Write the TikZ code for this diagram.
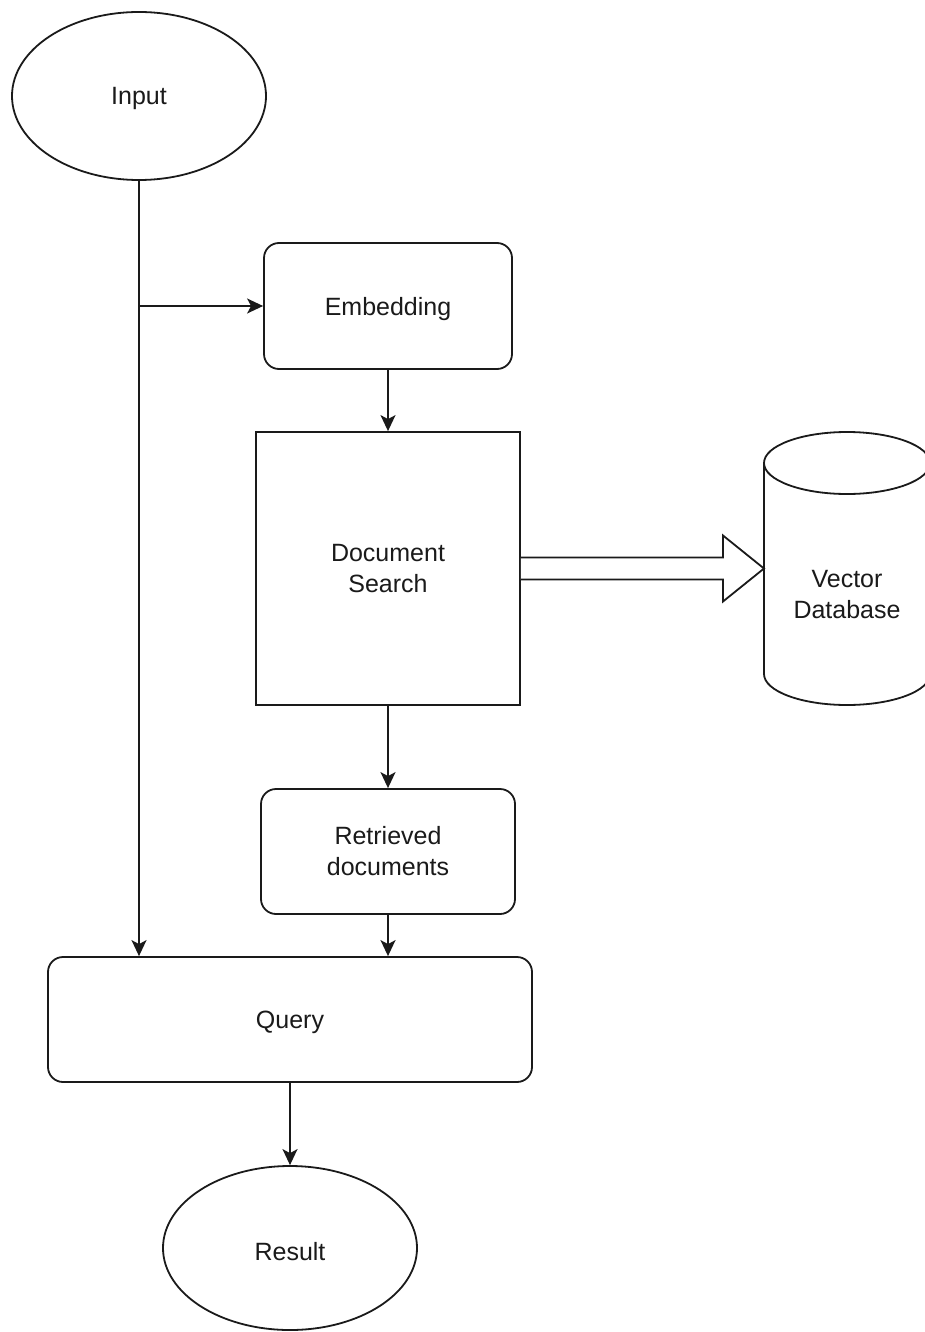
\documentclass[tikz,border=0pt]{standalone}
\usepackage{fontspec}
\setmainfont{Liberation Sans}
\usetikzlibrary{arrows.meta,calc,shapes.geometric}
\definecolor{ink}{HTML}{1A1A1A}
\begin{document}
\begin{tikzpicture}[x=1pt,y=-1pt,
  every node/.style={font=\fontsize{25}{31}\selectfont, text=ink, align=center, inner sep=0pt},
  one/.style={text height=18pt, text depth=0pt},
  shp/.style={draw=ink, line width=1.8pt, fill=white},
  oval/.style={shp, ellipse},
  rbox/.style={shp, rectangle, rounded corners=15pt},
  sbox/.style={shp, rectangle},
  arr/.style={draw=ink, line width=1.8pt, -{Stealth[length=16pt,width=15pt,inset=4pt]}},
  hollow/.style={draw=ink, line width=1.8pt, fill=white, line join=miter}
]
\useasboundingbox (0,0) rectangle (925,1332);

\node[oval, one, minimum width=254pt, minimum height=168pt] (in) at (139,96) {Input};
\node[rbox, one, minimum width=248pt, minimum height=126pt] (emb) at (388,306) {Embedding};
\node[sbox, minimum width=264pt, minimum height=273pt] (ds) at (388,568.5) {Document\\Search};
\node[rbox, minimum width=254pt, minimum height=125pt] (rd) at (388,851.5) {Retrieved\\documents};
\node[rbox, one, minimum width=484pt, minimum height=125pt] (q) at (290,1019.5) {Query};
\node[oval, one, text height=24pt, minimum width=254pt, minimum height=164pt] (res) at (290,1248) {Result};

% cylinder (vector database)
\fill[white] (764,463) -- (764,674) arc[start angle=180, end angle=360, x radius=83pt, y radius=31pt] -- (930,463) -- cycle;
\draw[draw=ink, line width=1.8pt] (764,463) -- (764,674) arc[start angle=180, end angle=360, x radius=83pt, y radius=31pt] -- (930,463);
\draw[draw=ink, line width=1.8pt, fill=white] (847,463) ellipse [x radius=83pt, y radius=31pt];
\node (db) at (847,595) {Vector\\Database};
\coordinate (dbw) at (764,568.5);

% connectors
\coordinate (br) at (in.south |- emb.west);
\draw[arr] (in.south) -- (in.south |- q.north);
\draw[arr] (br) -- (emb.west);
\draw[arr] (emb.south) -- (ds.north);
\draw[arr] (ds.south) -- (rd.north);
\draw[arr] (rd.south) -- (rd.south |- q.north);
\draw[arr] (q.south) -- (res.north);

% hollow block arrow
\draw[hollow] ($(ds.east)+(0,-11)$) -- ($(dbw)+(-41,-11)$) -- ($(dbw)+(-41,-33)$) -- (dbw)
  -- ($(dbw)+(-41,33)$) -- ($(dbw)+(-41,11)$) -- ($(ds.east)+(0,11)$);
\end{tikzpicture}
\end{document}
